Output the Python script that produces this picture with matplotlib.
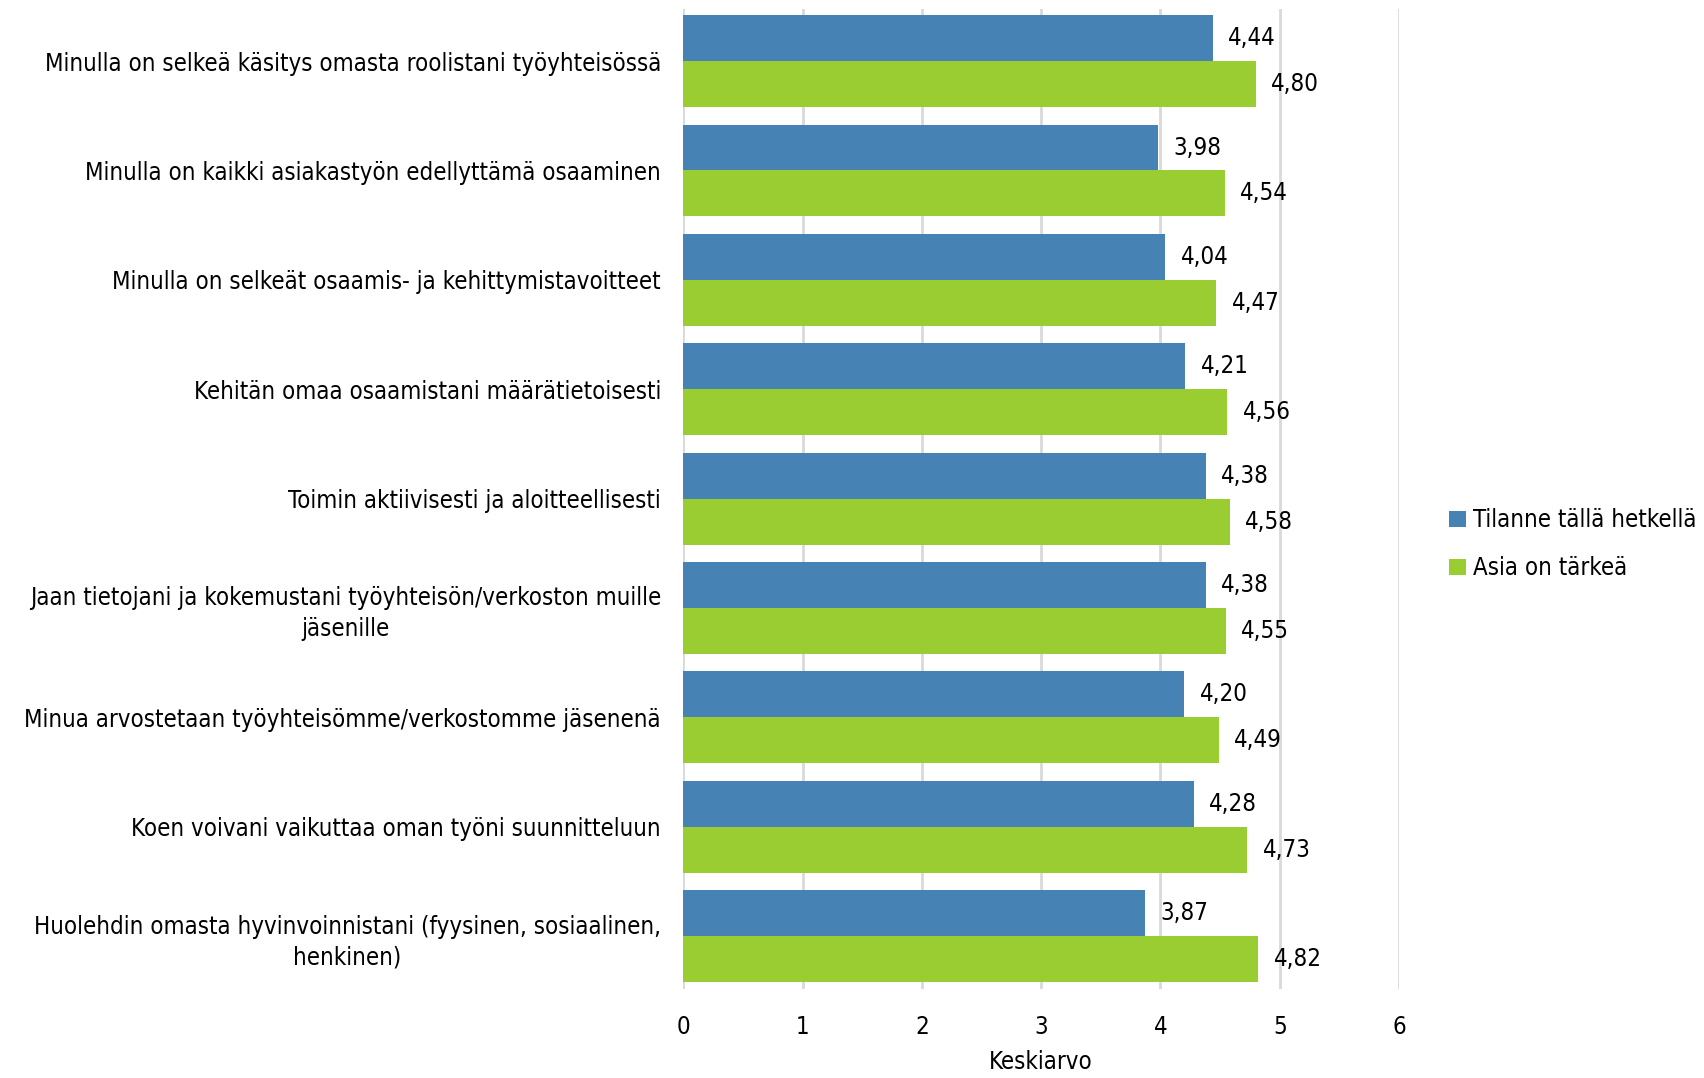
import matplotlib.pyplot as plt
from matplotlib import font_manager
import numpy as np

# data
categories = [
    "Minulla on selkeä käsitys omasta roolistani työyhteisössä",
    "Minulla on kaikki asiakastyön edellyttämä osaaminen",
    "Minulla on selkeät osaamis- ja kehittymistavoitteet",
    "Kehitän omaa osaamistani määrätietoisesti",
    "Toimin aktiivisesti ja aloitteellisesti",
    "Jaan tietojani ja kokemustani työyhteisön/verkoston muille\njäsenille",
    "Minua arvostetaan työyhteisömme/verkostomme jäsenenä",
    "Koen voivani vaikuttaa oman työni suunnitteluun",
    "Huolehdin omasta hyvinvoinnistani (fyysinen, sosiaalinen,\nhenkinen)",
]
tilanne = [4.44, 3.98, 4.04, 4.21, 4.38, 4.38, 4.20, 4.28, 3.87]
tarkea = [4.80, 4.54, 4.47, 4.56, 4.58, 4.55, 4.49, 4.73, 4.82]
series_names = ["Tilanne tällä hetkellä", "Asia on tärkeä"]
x_ticks = [0, 1, 2, 3, 4, 5, 6]

# look for a narrow font, like the original
fonts = font_manager.fontManager.ttflist
narrow = [f for f in fonts if f.name == "Liberation Sans Narrow" and f.weight in (400, 'normal')]
cond = [f for f in fonts if f.name == "DejaVu Sans" and 'ondensed' in str(f.stretch) + f.fname
        and 'Bold' not in f.fname and 'Oblique' not in f.fname]
if narrow:
    plt.rcParams['font.family'] = ["Liberation Sans Narrow", 'DejaVu Sans']
    fs = 17
elif cond:
    plt.rcParams['font.family'] = ['DejaVu Sans']
    plt.rcParams['font.stretch'] = 'condensed'
    fs = 17.2
else:
    plt.rcParams['font.family'] = ['Liberation Sans', 'DejaVu Sans']
    fs = 14.5

blue = '#4682B4'
green = '#9ACD32'

fig = plt.figure(figsize=(17.04, 10.78), dpi=100)
ax = fig.add_axes([0.401, 0.083, 0.42, 0.909])

y = np.arange(len(categories))
h = 0.42
ax.barh(y - h / 2, tilanne, height=h, color=blue, label=series_names[0], zorder=3)
ax.barh(y + h / 2, tarkea, height=h, color=green, label=series_names[1], zorder=3)

for yi, v in zip(y, tilanne):
    ax.annotate(f"{v:.2f}".replace('.', ','), (v, yi - h / 2), xytext=(11, 0),
                textcoords='offset points', va='center', ha='left', fontsize=fs)
for yi, v in zip(y, tarkea):
    ax.annotate(f"{v:.2f}".replace('.', ','), (v, yi + h / 2), xytext=(11, 0),
                textcoords='offset points', va='center', ha='left', fontsize=fs)

ax.set_ylim(len(categories) - 1 + 0.48, -0.48)
ax.set_xlim(0, 6)
ax.set_xticks(x_ticks)
ax.set_xticklabels([str(t) for t in x_ticks], fontsize=fs)
ax.set_yticks(y)
ax.set_yticklabels(categories, fontsize=fs, multialignment='center', linespacing=1.35)
ax.tick_params(axis='y', length=0, pad=16)
ax.tick_params(axis='x', length=0, pad=19)
ax.grid(axis='x', color='#d9d9d9', linewidth=2, zorder=0)
for s in ax.spines.values():
    s.set_visible(False)
ax.set_xlabel("Keskiarvo", fontsize=fs, labelpad=8)

fig.legend(loc='center left', bbox_to_anchor=(0.845, 0.495), frameon=False,
           fontsize=fs, handlelength=0.7, handleheight=0.7, handletextpad=0.3,
           labelspacing=1.0, borderaxespad=0)

fig.savefig('out.png', dpi=100)
